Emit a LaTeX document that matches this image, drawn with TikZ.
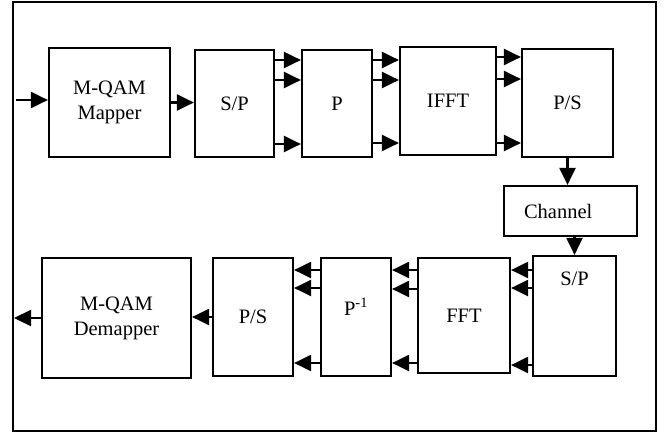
\documentclass[tikz,border=0pt]{standalone}
\usepackage{fontspec}
\setmainfont{Liberation Serif}
\usepackage{tikz}
\usetikzlibrary{positioning,arrows.meta,calc}
\tikzset{
  blk/.style={draw,line width=2.2pt,inner sep=0pt,align=center,font=\fontsize{20.5}{25}\selectfont},
  txt/.style={inner sep=0pt,align=center,font=\fontsize{20.5}{25}\selectfont},
  arr/.style={line width=2.2pt,-{Triangle[length=17pt 0 0,width=16pt 0 0]}},
  frm/.style={draw,line width=2.2pt},
}

\begin{document}
\begin{tikzpicture}[x=1pt,y=-1pt]
  \useasboundingbox (0,0) rectangle (671,439);
  \draw[frm] (13,2) rectangle (656,431);
  % transmitter (top row)
  \node[blk,minimum width=121,minimum height=109] (map) at (109.5,102.5) {M-QAM\\Mapper};
  \node[blk,minimum width=79,minimum height=107] (spa) at (234.5,103.5) {S/P};
  \node[blk,minimum width=70,minimum height=107] (pa) at (337,103.5) {P};
  \node[blk,minimum width=96,minimum height=108] (ifft) at (448,101) {IFFT};
  \node[blk,minimum width=91,minimum height=108] (psa) at (567.5,103) {P/S};
  % channel
  \node[blk,minimum width=133,minimum height=50,text width=93,align=left] (chan) at (570.5,211) {Channel};
  % receiver (bottom row)
  \node[blk,minimum width=83,minimum height=120] (spb) at (574.5,316) {};
  \node[txt] (spbtxt) at ($(spb.north)+(0,24)$) {S/P};
  \node[blk,minimum width=92,minimum height=115] (fft) at (464,315.5) {FFT};
  \node[blk,minimum width=70,minimum height=118] (pinv) at (356,317) {};
  \node[txt] (pinvtxt) at ($(pinv.center)+(0,-10)$) {P\textsuperscript{-1}};
  \node[blk,minimum width=80,minimum height=118] (psb) at (253,317) {P/S};
  \node[blk,minimum width=149,minimum height=120] (demap) at (116.5,318) {M-QAM\\Demapper};
  \coordinate (in) at (16,100);
  \coordinate (out) at (14,318);
  % connectors
  \draw[arr] (in) -- (map.west |- in);
  \draw[arr] (map.east) -- (map.east -| spa.west);
  \foreach \y in {60,80,144} \draw[arr] (spa.east |- 0,\y) -- (pa.west |- 0,\y);
  \foreach \y in {60,80,143} \draw[arr] (pa.east |- 0,\y) -- (ifft.west |- 0,\y);
  \foreach \y in {57,79,143} \draw[arr] ([xshift=-2pt]ifft.east |- 0,\y) -- (psa.west |- 0,\y);
  \draw[arr] (psa.south) -- (psa.south |- chan.north);
  \draw[arr] (spb.north |- chan.south) -- (spb.north);
  \foreach \y in {270,288,365} \draw[arr] (spb.west |- 0,\y) -- (fft.east |- 0,\y);
  \foreach \y in {270,289,363} \draw[arr] (fft.west |- 0,\y) -- (pinv.east |- 0,\y);
  \foreach \y in {270,288,363} \draw[arr] (pinv.west |- 0,\y) -- (psb.east |- 0,\y);
  \draw[arr] (psb.west) -- (psb.west -| demap.east);
  \draw[arr] (demap.west |- out) -- (out);
\end{tikzpicture}
\end{document}
